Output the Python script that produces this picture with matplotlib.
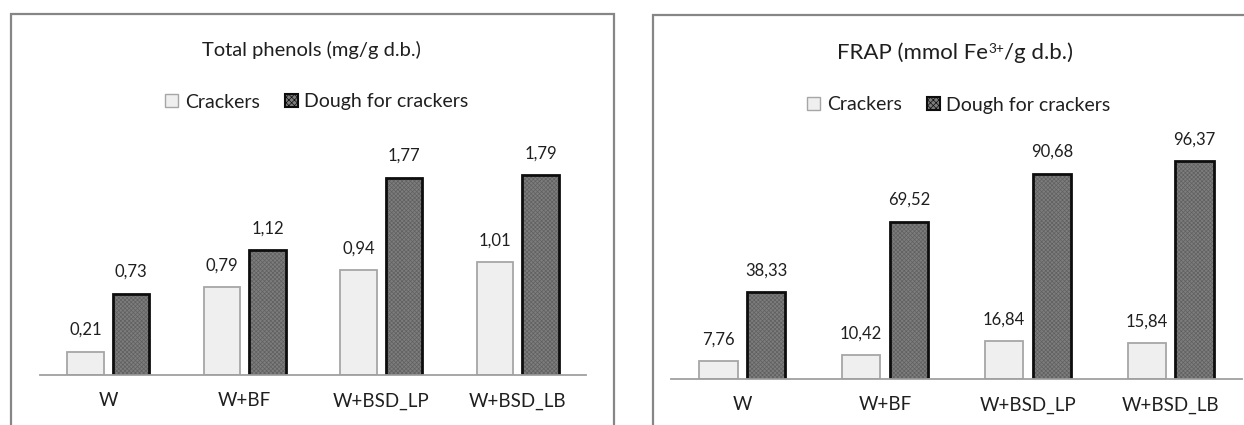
import matplotlib
matplotlib.use("Agg")
import matplotlib.pyplot as plt
from matplotlib.patches import Rectangle, Patch

plt.rcParams['font.family'] = ['Lato', 'DejaVu Sans']
plt.rcParams['hatch.linewidth'] = 0.5

categories = ["W", "W+BF", "W+BSD_LP", "W+BSD_LB"]
series_names = ["Crackers", "Dough for crackers"]

phenols_crackers = [0.21, 0.79, 0.94, 1.01]
phenols_dough = [0.73, 1.12, 1.77, 1.79]

frap_crackers = [7.76, 10.42, 16.84, 15.84]
frap_dough = [38.33, 69.52, 90.68, 96.37]

# titles as (text, is_superscript) pieces
title_left = [("Total phenols (mg/g d.b.)", False)]
title_right = [("FRAP (mmol Fe", False), ("3+", True), ("/g d.b.)", False)]

W, H = 1244, 425
fig = plt.figure(figsize=(W / 100, H / 100), dpi=100)
renderer = fig.canvas.get_renderer()

TXT = '#1f1f1f'
LIGHT_FILL = '#efefef'
LIGHT_EDGE = '#a6a6a6'
DARK_FILL = '#7d7d7d'
DARK_HATCH = '#606060'
DARK_EDGE = '#0d0d0d'


def px_rect(x0, x1, ytop, ybot):
    return [x0 / W, 1 - ybot / H, (x1 - x0) / W, (ybot - ytop) / H]


def frame(x0, x1, y0, y1):
    fig.patches.append(Rectangle((x0 / W, 1 - y1 / H), (x1 - x0) / W, (y1 - y0) / H,
                                 transform=fig.transFigure, fill=False,
                                 edgecolor='#868686', linewidth=1.6, zorder=0))


def draw_title(pieces, x0, x1, baseline):
    """Lay the title pieces out so that they fill x0..x1 (pixels)."""
    base_fs = 14.0
    texts = []
    for s, sup in pieces:
        t = fig.text(0, 0, s, fontsize=base_fs * (0.62 if sup else 1.0),
                     color=TXT, ha='left', va='baseline')
        texts.append((t, sup))
    total = sum(t.get_window_extent(renderer).width for t, _ in texts)
    k = (x1 - x0) / total
    fs = base_fs * k
    for t, sup in texts:
        t.set_fontsize(fs * (0.62 if sup else 1.0))
    x = x0
    for t, sup in texts:
        w = t.get_window_extent(renderer).width
        y = H - baseline + (fs * 0.38 if sup else 0)
        t.set_position((x / W, y / H))
        x += w


def panel(rect, crackers, dough, ymax, title, title_span, legend_xy):
    ax = fig.add_axes(rect)
    x = list(range(len(categories)))
    off, bw = 0.168, 0.268
    b1 = ax.bar([i - off for i in x], crackers, width=bw, color=LIGHT_FILL,
                edgecolor=LIGHT_EDGE, linewidth=1.3)
    xd = [i + off for i in x]
    ax.bar(xd, dough, width=bw, color=DARK_FILL, edgecolor=DARK_HATCH,
           linewidth=0, hatch='xxxxxxxx')
    b2 = ax.bar(xd, dough, width=bw, fill=False, edgecolor=DARK_EDGE,
                linewidth=2.0)
    for bars in (b1, b2):
        for r in bars:
            v = r.get_height()
            ax.annotate(f"{v:.2f}".replace('.', ','),
                        (r.get_x() + r.get_width() / 2, v),
                        xytext=(0, 15.5), textcoords='offset points',
                        ha='center', va='center', fontsize=12, color=TXT)
    ax.set_xlim(-0.5, len(categories) - 0.5)
    ax.set_ylim(0, ymax)
    ax.set_xticks(x)
    ax.set_xticklabels(categories, fontsize=13.5, color=TXT)
    ax.tick_params(axis='x', length=0, pad=12.5)
    ax.set_yticks([])
    for s in ('left', 'right', 'top'):
        ax.spines[s].set_visible(False)
    ax.spines['bottom'].set_color('#a0a0a0')
    ax.spines['bottom'].set_linewidth(1.3)
    ax.patch.set_alpha(0)
    draw_title(title, *title_span)
    handles = [Patch(facecolor=LIGHT_FILL, edgecolor=LIGHT_EDGE, linewidth=1.0),
               Patch(facecolor=DARK_FILL, edgecolor=DARK_EDGE, linewidth=1.5,
                     hatch='xxxxxx')]
    ax.legend(handles, series_names, loc='center', ncol=2, frameon=False,
              bbox_to_anchor=(legend_xy[0] / W, 1 - legend_xy[1] / H),
              bbox_transform=fig.transFigure, fontsize=14,
              handlelength=0.65, handleheight=0.65, handletextpad=0.35,
              columnspacing=1.3, labelcolor=TXT, borderaxespad=0, borderpad=0)
    return ax


frame(11, 614, 14, 440)
frame(653, 1260, 15, 440)

panel(px_rect(40, 586, 152, 375), phenols_crackers, phenols_dough, 2.0,
      title_left, (202, 423, 56), (317, 102))
panel(px_rect(671, 1242, 152.5, 379), frap_crackers, frap_dough, 100,
      title_right, (837, 1073, 59), (959, 105))

fig.savefig("out.png", dpi=100)
